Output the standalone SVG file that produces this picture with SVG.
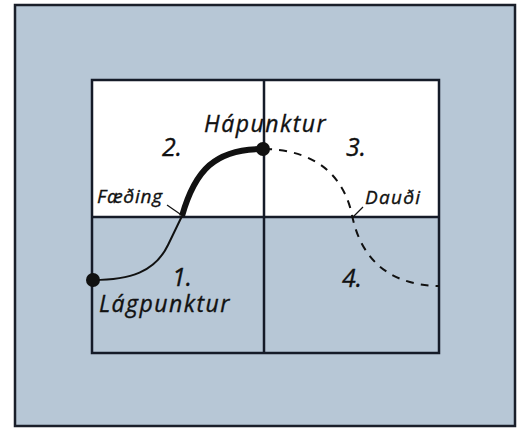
<svg xmlns="http://www.w3.org/2000/svg" width="524" height="429" viewBox="0 0 524 429">
<style>
.lbl{font-family:"Open Sans","Noto Sans",sans-serif;font-style:italic;font-weight:500;fill:#111;stroke:#111;stroke-width:0.35;}
.big{font-size:23px;letter-spacing:1.5px;}
.num{font-size:25px;}
.sm{font-size:19px;}
.grid{stroke:#151b28;stroke-width:2.5;fill:none;}
.lead{stroke:#111;stroke-width:1.2;fill:none;}
</style>
<rect x="0" y="0" width="524" height="429" fill="#ffffff"/>
<rect x="15" y="5" width="500" height="421" fill="#b7c7d6" stroke="#1a1f2a" stroke-width="2.5"/>
<g id="grid">
<rect x="92" y="80" width="347" height="137" fill="#ffffff"/>
<rect class="grid" x="92" y="80" width="347" height="273"/>
<line class="grid" x1="264" y1="80" x2="264" y2="353"/>
<line class="grid" x1="92" y1="217" x2="439" y2="217"/>
</g>
<g id="connectors">
<path d="M93,280 C130,280 155,272 168,245 L182,216" stroke="#111" stroke-width="2" fill="none"/>
<path d="M182,216 C195,170 215,149 263,149" stroke="#111" stroke-width="6" fill="none"/>
<path d="M264,149 C322,150 345,182 352,215 C360,255 385,285 439,286" stroke="#111" stroke-width="2" stroke-dasharray="8,7" fill="none"/>
<line class="lead" x1="167" y1="205" x2="180" y2="214"/>
<line class="lead" x1="363" y1="207" x2="352" y2="218"/>
</g>
<g id="hapunktur">
<circle cx="263" cy="149" r="7" fill="#111"/>
<text class="lbl big" x="204" y="132">Hápunktur</text>
</g>
<g id="lagpunktur">
<circle cx="93" cy="280" r="7" fill="#111"/>
<text class="lbl big" x="99" y="312">Lágpunktur</text>
</g>
<g id="q1"><text class="lbl num" x="172" y="286">1.</text></g>
<g id="q2"><text class="lbl num" x="162" y="156">2.</text></g>
<g id="q3"><text class="lbl num" x="346" y="156">3.</text></g>
<g id="q4"><text class="lbl num" x="342" y="287">4.</text></g>
<g id="faeding"><text class="lbl sm" x="97" y="203" letter-spacing="0.8">Fæðing</text></g>
<g id="daudi"><text class="lbl sm" x="365" y="204" letter-spacing="1.3">Dauði</text></g>
</svg>
